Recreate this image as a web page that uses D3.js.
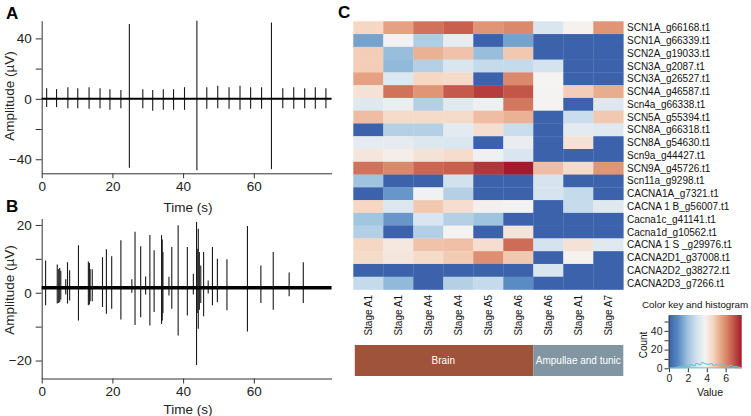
<!DOCTYPE html>
<html><head><meta charset="utf-8">
<script src="https://cdn.jsdelivr.net/npm/d3@7"></script>
<style>
body{margin:0;background:#fff;}
svg{display:block;font-family:Arial,"Liberation Sans",sans-serif;}
</style></head><body>
<svg id="chart" width="751" height="416"></svg>
<script>
// ---------------- DATA ----------------
const timeTicks = [0, 20, 40, 60];
const ampTicksA = [-40, -20, 0, 20, 40];
const ampLabelsA = [-40, 0, 40];
const ampTicksB = [-20, -10, 0, 10, 20];
const ampLabelsB = [-20, 0, 20];

// Panel A spikes: time (s), upper and lower excursion (µV)
const spikeA_t  = [1.4, 4.2, 7.4, 10.2, 13.4, 16.5, 19.3, 22.4, 24.8, 28.6, 31.4, 34.4, 37.3, 40.4, 43.9, 46.7, 49.8, 53.0, 56.1, 59.1, 62.2, 65.0, 68.2, 71.3, 74.4, 77.4, 80.4];
const spikeA_hi = [7.0, 6.4, 7.7, 7.0, 7.7, 7.0, 6.4, 5.9, 49.5, 6.4, 5.9, 6.4, 6.4, 7.7, 51.6, 7.7, 8.6, 7.7, 8.6, 7.7, 7.7, 50.5, 7.0, 7.7, 7.0, 7.7, 7.0];
const spikeA_lo = [-5.5, -5.5, -6.2, -6.2, -6.6, -6.2, -7.3, -6.2, -45.7, -6.2, -7.9, -7.3, -7.3, -7.3, -47.3, -6.6, -6.2, -6.6, -7.3, -6.6, -6.6, -46.5, -6.2, -6.6, -6.2, -6.6, -6.2];

// Panel B spikes
const spikeB_t  = [1.1, 4.4, 4.8, 5.1, 5.4, 6.8, 7.3, 7.9, 10.4, 13.2, 13.5, 13.7, 14.3, 17.2, 18.3, 19.8, 22.4, 25.5, 26.4, 28.0, 29.4, 30.6, 31.8, 33.9, 34.1, 34.3, 36.0, 36.8, 38.6, 41.2, 42.9, 43.8, 44.0, 44.3, 44.6, 45.0, 45.8, 47.1, 48.3, 49.7, 52.4, 58.2, 62.0, 65.5, 70.0, 74.0];
const spikeB_hi = [9.5, 8.3, 7.0, 7.3, 6.5, 4.0, 9.0, 6.6, 14.0, 9.2, 8.8, 7.0, 6.9, 10.5, 12.8, 10.8, 15.5, 4.0, 18.0, 13.7, 4.8, 17.0, 12.5, 17.0, 15.7, 12.0, 4.7, 13.5, 19.9, 13.5, 5.6, 20.9, 13.0, 18.9, 12.0, 8.0, 12.0, 3.6, 13.5, 10.0, 9.9, 19.7, 8.0, 12.0, 6.0, 9.0];
const spikeB_lo = [-3.7, -3.2, -3.0, -2.7, -2.0, -0.5, -3.2, -2.3, -8.2, -3.7, -3.5, -2.5, -2.5, -4.2, -6.2, -4.7, -7.9, 0.0, -9.5, -7.2, -0.5, -9.7, -5.7, -9.2, -8.2, -6.0, -0.8, -4.7, -12.6, -6.7, -0.5, -21.3, -6.0, -10.6, -5.0, -3.0, -6.9, -0.2, -3.7, -2.8, -5.2, -11.4, -3.0, -5.0, -1.0, -3.0];
const baselineB = 1.5;

// Panel C heatmap
const rowLabels = ["SCN1A_g66168.t1","SCN1A_g66339.t1","SCN2A_g19033.t1","SCN3A_g2087.t1","SCN3A_g26527.t1","SCN4A_g46587.t1","Scn4a_g66338.t1","SCN5A_g55394.t1","SCN8A_g66318.t1","SCN8A_g54630.t1","Scn9a_g44427.t1","SCN9A_g45726.t1","Scn11a_g9298.t1","CACNA1A_g7321.t1","CACNA 1 B_g56007.t1","Cacna1c_g41141.t1","Cacna1d_g10562.t1","CACNA 1 S _g29976.t1","CACNA2D1_g37008.t1","CACNA2D2_g38272.t1","CACNA2D3_g7266.t1"];
const colLabels = ["Stage A1","Stage A1","Stage A4","Stage A4","Stage A5","Stage A6","Stage A6","Stage A1","Stage A7"];
const groupNames = ["Brain", "Ampullae and tunic"];
const groupSizes = [6, 3];
const heatValues = [
  [4.6, 5.6, 6.4, 6.7, 5.8, 6.0, 3.1, 3.9, 5.8],
  [1.4, 3.8, 2.3, 3.5, 0.0, 1.4, 0.0, 0.0, 0.0],
  [4.8, 1.9, 5.3, 5.0, 1.9, 4.9, 0.0, 0.0, 0.0],
  [4.8, 1.8, 2.4, 3.1, 2.7, 2.7, 3.0, 0.0, 0.0],
  [5.6, 3.2, 4.6, 4.5, 0.0, 6.0, 3.85, 0.0, 0.0],
  [4.3, 6.4, 5.8, 6.8, 7.2, 6.85, 3.85, 4.8, 5.4],
  [3.3, 3.6, 2.4, 3.3, 3.65, 6.3, 3.85, 0.0, 3.2],
  [5.1, 4.5, 4.5, 4.5, 5.1, 5.3, 0.0, 2.8, 4.9],
  [0.0, 2.4, 2.4, 3.4, 4.4, 2.8, 0.0, 3.4, 3.3],
  [3.45, 3.45, 3.2, 3.15, 0.0, 3.55, 0.0, 4.3, 0.0],
  [4.2, 4.0, 4.3, 4.45, 3.7, 3.1, 0.0, 0.0, 0.0],
  [6.4, 6.0, 6.6, 6.7, 7.3, 7.7, 5.1, 4.5, 5.8],
  [2.0, 0.0, 0.0, 2.95, 0.0, 0.0, 3.05, 0.0, 0.0],
  [0.0, 1.2, 3.75, 2.4, 0.0, 0.0, 3.05, 2.7, 0.0],
  [4.6, 3.2, 4.9, 4.4, 3.95, 3.8, 0.0, 2.7, 3.3],
  [2.05, 1.2, 3.1, 2.4, 2.0, 0.0, 0.0, 0.0, 0.0],
  [2.35, 0.0, 2.35, 3.85, 0.0, 4.25, 0.0, 0.0, 0.0],
  [4.6, 4.15, 5.0, 5.05, 4.4, 6.5, 3.0, 4.3, 3.3],
  [4.5, 4.2, 4.5, 4.85, 5.9, 4.9, 0.0, 3.9, 0.0],
  [0.0, 0.0, 0.0, 0.0, 0.0, 0.0, 3.1, 0.0, 0.0],
  [2.7, 1.8, 0.0, 2.4, 2.7, 1.0, 0.0, 0.0, 0.0]
];
// colour key
const keyStops  = [0, 1, 2, 3, 3.85, 4.7, 5.7, 6.7, 7.7];
const keyColors = ["#3b62ab", "#5a8bc3", "#9fc4df", "#d5e3ef", "#f4f3f2", "#f5d3be", "#e39b7a", "#c9604e", "#a21a2c"];
const keyTicks = [0, 2, 4, 6];
const countTicks = [0, 10, 20, 30, 40, 50];
const countLabels = [0, 20, 40];
const histBinEdges = [0.7, 1.0, 1.3, 1.6, 1.9, 2.2, 2.5, 2.8, 3.1, 3.4, 3.7, 4.0, 4.3, 4.6, 4.9, 5.2, 5.5, 5.8, 6.1, 6.4, 6.7, 7.0, 7.3, 7.7];
const histCounts   = [1, 2, 2, 3, 2, 4, 3, 5, 4, 6, 5, 4, 5, 3, 4, 3, 4, 3, 2, 3, 2, 2, 1];

// ---------------- DRAW ----------------
const svg = d3.select("#chart");
const ink = "#1a1a1a";

function panelLabel(t, x, y) {
  svg.append("text").attr("x", x).attr("y", y).text(t)
    .attr("font-size", 17).attr("font-weight", "bold").attr("fill", "#000");
}

function tracePanel(opt) {
  const g = svg.append("g");
  const x = d3.scaleLinear().domain([0, opt.xMax]).range([41.7, 41.7 + opt.xMax * 3.535]);
  const y = d3.scaleLinear().domain(opt.yDom).range(opt.yRange);
  const ya = d3.axisLeft(y).tickValues(opt.yTicks)
    .tickFormat(d => opt.yLabels.includes(d) ? d3.format("d")(d) : "")
    .tickSize(6).tickSizeOuter(0).tickPadding(4);
  const gy = g.append("g").attr("transform", `translate(${x(0)},0)`).call(ya);
  const xa = d3.axisBottom(x).tickValues(timeTicks).tickFormat(d3.format("d"))
    .tickSize(5).tickSizeOuter(0).tickPadding(3);
  const gx = g.append("g").attr("transform", `translate(0,${y.range()[0]})`).call(xa);
  [gy, gx].forEach(a => {
    a.selectAll("path,line").attr("stroke", "#333").attr("stroke-width", 1);
    a.selectAll("text").attr("font-size", 13.5).attr("fill", "#222").attr("font-family", "Arial, Liberation Sans, sans-serif");
  });
  g.append("text").attr("transform", `translate(${opt.ylabX},${opt.ylabY}) rotate(-90)`)
    .attr("text-anchor", "middle").attr("font-size", 13.5).attr("fill", "#222").text("Amplitude (\u00b5V)");
  g.append("text").attr("x", opt.tlabX).attr("y", opt.tlabY).attr("text-anchor", "middle")
    .attr("font-size", 13.5).attr("fill", "#222").text("Time (s)");
  g.selectAll("line.sp").data(opt.t).join("line").attr("class", "sp")
    .attr("x1", d => x(d)).attr("x2", d => x(d))
    .attr("y1", (d, i) => y(opt.hi[i])).attr("y2", (d, i) => y(opt.lo[i]))
    .attr("stroke", ink).attr("stroke-width", 1.1);
  g.append("line").attr("x1", x(0)).attr("x2", x(opt.xMax))
    .attr("y1", y(opt.base)).attr("y2", y(opt.base))
    .attr("stroke", "#000").attr("stroke-width", opt.baseW);
}

panelLabel("A", 6, 19);
tracePanel({xMax: 82, yDom: [-49.3, 51.7], yRange: [173.3, 20.7], yTicks: ampTicksA, yLabels: ampLabelsA,
  t: spikeA_t, hi: spikeA_hi, lo: spikeA_lo, base: 0, baseW: 2,
  ylabX: 14, ylabY: 96, tlabX: 188, tlabY: 212});

panelLabel("B", 6, 212);
tracePanel({xMax: 82, yDom: [-25.3, 21.9], yRange: [378.5, 218.5], yTicks: ampTicksB, yLabels: ampLabelsB,
  t: spikeB_t, hi: spikeB_hi, lo: spikeB_lo, base: baselineB, baseW: 3.5,
  ylabX: 14, ylabY: 290, tlabX: 188, tlabY: 414});

// ---------- Panel C ----------
panelLabel("C", 338, 18);
const color = d3.scaleLinear().domain(keyStops).range(keyColors).interpolate(d3.interpolateRgb).clamp(true);
const hx = d3.scaleBand().domain(d3.range(colLabels.length)).range([353.3, 623.3]);
const hy = d3.scaleBand().domain(d3.range(rowLabels.length)).range([21.3, 289.5]);
const hg = svg.append("g");
heatValues.forEach((row, r) => {
  hg.selectAll(null).data(row).join("rect")
    .attr("x", (d, c) => hx(c)).attr("y", hy(r))
    .attr("width", hx.bandwidth() + 0.3).attr("height", hy.bandwidth() + 0.3)
    .attr("fill", d => color(d));
});
hg.selectAll("text.rl").data(rowLabels).join("text").attr("class", "rl")
  .attr("x", 627).attr("y", (d, i) => hy(i) + hy.bandwidth() / 2).attr("dy", "0.35em")
  .attr("font-size", 10).attr("fill", "#111").text(d => d);
hg.selectAll("text.cl").data(colLabels).join("text").attr("class", "cl")
  .attr("transform", (d, i) => `translate(${hx(i) + hx.bandwidth() / 2 + 3.6},${295}) rotate(-90)`)
  .attr("text-anchor", "end").attr("font-size", 10).attr("fill", "#111").text(d => d);

const groupColors = ["#9f533a", "#8195a3"];
let start = 0;
groupNames.forEach((name, i) => {
  const x0 = hx(start), x1 = hx(start + groupSizes[i] - 1) + hx.bandwidth();
  hg.append("rect").attr("x", i === 0 ? x0 + 1.5 : x0).attr("y", 345)
    .attr("width", x1 - x0 - (i === 0 ? 1.5 : 0)).attr("height", 31).attr("fill", groupColors[i]);
  hg.append("text").attr("x", (x0 + x1) / 2).attr("y", 360.5).attr("dy", "0.35em")
    .attr("text-anchor", "middle").attr("font-size", 10).attr("fill", "#fff").text(name);
  start += groupSizes[i];
});

const kx = d3.scaleLinear().domain([0, 7.7]).range([669, 741.7]);
const ky = d3.scaleLinear().domain([0, 57]).range([368.3, 315]);
const defs = svg.append("defs");
const grad = defs.append("linearGradient").attr("id", "kgrad");
keyStops.forEach((s, i) => grad.append("stop").attr("offset", s / 7.7).attr("stop-color", keyColors[i]));
const kg = svg.append("g");
kg.append("rect").attr("x", kx(0)).attr("y", ky(57)).attr("width", kx(7.7) - kx(0))
  .attr("height", ky(0) - ky(57)).attr("fill", "url(#kgrad)");
const histPts = [];
histCounts.forEach((c, i) => { histPts.push([histBinEdges[i], c]); histPts.push([histBinEdges[i + 1], c]); });
kg.append("path").attr("d", d3.line().x(d => kx(d[0])).y(d => ky(d[1]))(histPts))
  .attr("fill", "none").attr("stroke", "#6cc6cc").attr("stroke-width", 1);
kg.append("line").attr("x1", kx(0)).attr("x2", kx(7.7)).attr("y1", ky(0.5)).attr("y2", ky(0.5))
  .attr("stroke", "#6cc6cc").attr("stroke-width", 1);
const kxa = d3.axisBottom(kx).tickValues(keyTicks).tickFormat(d3.format("d")).tickSize(4).tickSizeOuter(0).tickPadding(2);
const kya = d3.axisLeft(ky).tickValues(countTicks).tickFormat(d => countLabels.includes(d) ? d : "").tickSize(4).tickSizeOuter(0).tickPadding(2);
const gkx = kg.append("g").attr("transform", `translate(0,${ky(0)})`).call(kxa);
const gky = kg.append("g").attr("transform", `translate(${kx(0) - 0.5},0)`).call(kya);
[gkx, gky].forEach(a => {
  a.selectAll("path,line").attr("stroke", "#333");
  a.selectAll("text").attr("font-size", 10.5).attr("fill", "#222").attr("font-family", "Arial, Liberation Sans, sans-serif");
});
gkx.select("path").remove();
kg.append("text").attr("x", 642).attr("y", 305).attr("dy", "0.35em").attr("font-size", 9.8).attr("fill", "#111").text("Color key and histogram");
kg.append("text").attr("transform", `translate(643,345) rotate(-90)`).attr("dy", "0.35em")
  .attr("text-anchor", "middle").attr("font-size", 10).attr("fill", "#111").text("Count");
kg.append("text").attr("x", 710).attr("y", 392.5).attr("dy", "0.35em").attr("text-anchor", "middle")
  .attr("font-size", 10.5).attr("fill", "#111").text("Value");
</script></body></html>
